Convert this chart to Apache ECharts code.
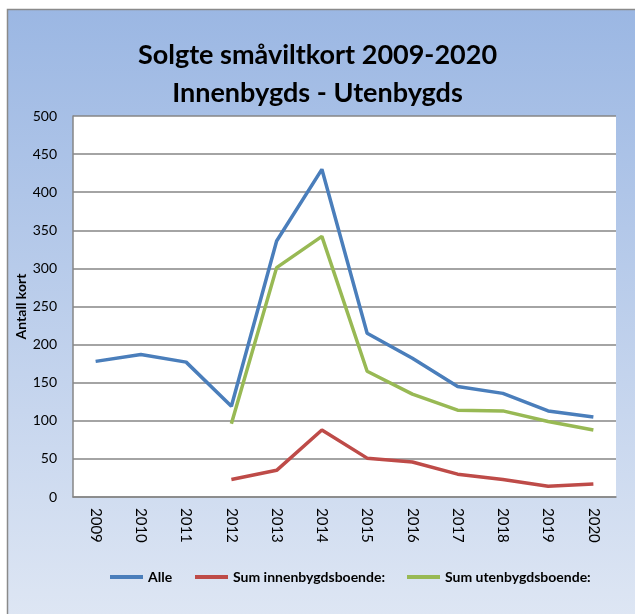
<!DOCTYPE html>
<html><head><meta charset="utf-8">
<script src="https://cdn.jsdelivr.net/npm/echarts@6/dist/echarts.min.js"></script>
<style>html,body{margin:0;padding:0;background:#fff}#c{width:635px;height:614px}</style>
</head><body><div id="c"></div>
<script>
const years = ['2009','2010','2011','2012','2013','2014','2015','2016','2017','2018','2019','2020'];
const alle = [178, 187, 177, 119, 336, 430, 215, 182, 145, 136, 113, 105];
const innenbygds = [null, null, null, 23, 35, 88, 51, 46, 30, 23, 14, 17];
const utenbygds = [null, null, null, 96, 301, 342, 165, 135, 114, 113, 99, 88];
const seriesNames = ['Alle', 'Sum innenbygdsboende:', 'Sum utenbygdsboende:'];
const yTicks = [0, 50, 100, 150, 200, 250, 300, 350, 400, 450, 500];

const chart = echarts.init(document.getElementById('c'), null, {renderer:'canvas'});
const font = 'Lato, "Open Sans", sans-serif';
const legendLefts = [110, 195, 407];
chart.setOption({
  backgroundColor: '#ffffff',
  animation: false,
  graphic: [{
    type: 'rect', z: -10, silent: true,
    shape: {x: 7.5, y: 9.5, width: 640, height: 620},
    style: {
      fill: new echarts.graphic.LinearGradient(0, 0, 0, 1, [
        {offset: 0, color: '#9bb7e3'},
        {offset: 1, color: '#dfe7f4'}
      ]),
      stroke: '#8a8a8a', lineWidth: 1.5
    }
  }, {
    type: 'rect', z: -9, silent: true,
    shape: {x: 73, y: 116, width: 543, height: 381},
    style: {fill: '#ffffff'}
  }],
  title: {
    text: 'Solgte småviltkort 2009-2020\nInnenbygds - Utenbygds',
    left: 'center', top: 31,
    textStyle: {fontFamily: font, fontWeight: 'bold', fontSize: 27, lineHeight: 38, color: '#000'}
  },
  legend: seriesNames.map((n, i) => ({
    top: 570, left: legendLefts[i], padding: 0, itemWidth: 33, itemHeight: 4,
    icon: 'rect',
    textStyle: {fontFamily: font, fontSize: 14, color: '#000', fontWeight: 'bold'},
    data: [n]
  })),
  grid: {left: 73, right: 19, top: 116, bottom: 117, containLabel: false},
  xAxis: {
    type: 'category', data: years, boundaryGap: true,
    axisLine: {lineStyle: {color: '#868686', width: 1.5}},
    axisTick: {show: false},
    axisLabel: {rotate: -90, color: '#000', fontFamily: font, fontSize: 15, margin: 11, interval: 0}
  },
  yAxis: {
    type: 'value', min: 0, max: 500, interval: 50,
    name: 'Antall kort', nameLocation: 'middle', nameGap: 45, nameRotate: 90,
    nameMoveOverlap: false,
    nameTextStyle: {fontFamily: font, fontWeight: 'bold', fontSize: 14, color: '#000'},
    axisLine: {show: true, lineStyle: {color: '#868686', width: 1.5}},
    axisTick: {show: false},
    splitLine: {lineStyle: {color: '#868686', width: 1.5}},
    axisLabel: {color: '#000', fontFamily: font, fontSize: 14, margin: 16,
      formatter: v => yTicks.includes(v) ? String(v) : ''}
  },
  series: [
    {name: seriesNames[0], type: 'line', data: alle, symbol: 'none', lineStyle: {width: 3.5, color: '#4a7ebb'}, itemStyle: {color: '#4a7ebb'}},
    {name: seriesNames[1], type: 'line', data: innenbygds, symbol: 'none', lineStyle: {width: 3.5, color: '#be4b48'}, itemStyle: {color: '#be4b48'}},
    {name: seriesNames[2], type: 'line', data: utenbygds, symbol: 'none', lineStyle: {width: 3.5, color: '#98b954'}, itemStyle: {color: '#98b954'}}
  ]
});
</script></body></html>
